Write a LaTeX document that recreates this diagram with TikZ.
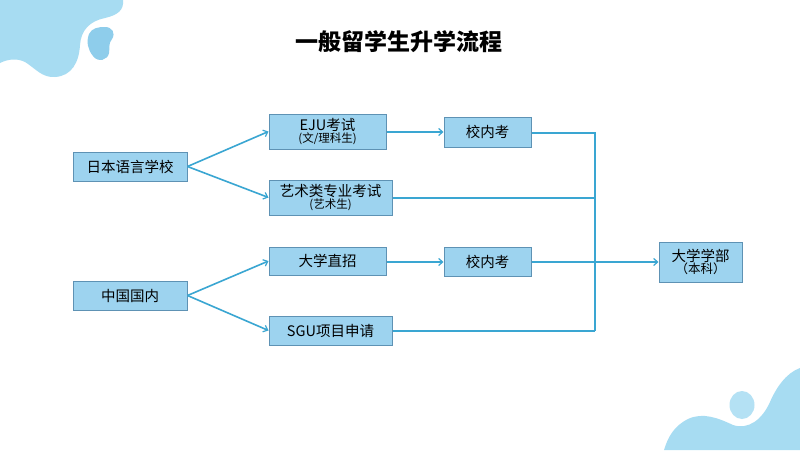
\documentclass[tikz,border=0pt]{standalone}
\usepackage{fontspec}
\setmainfont{Noto Sans CJK SC}
\usetikzlibrary{arrows.meta}
\definecolor{blobA}{HTML}{A7DCF2}
\definecolor{blobB}{HTML}{8ECDEB}
\definecolor{boxfill}{HTML}{9DD3EF}
\definecolor{boxline}{HTML}{5E92B4}
\definecolor{conn}{HTML}{3AA6D2}
\tikzset{
  box/.style={draw=boxline, line width=1pt, fill=boxfill, rectangle, inner sep=0pt, align=center, font=\fontsize{14.5}{16}\selectfont},
  link/.style={draw=conn, line width=1.6pt},
  arr/.style={link, -{Straight Barb[length=4pt,width=7pt,line width=1.2pt]}}
}
\begin{document}
\begin{tikzpicture}[x=1pt,y=-1pt]
\useasboundingbox (0,0) rectangle (800,450);
\fill[white] (0,0) rectangle (800,450);
% blobs
\fill[blobA] (0,0) -- (123,0) .. controls (124,10) and (118,15) .. (105,18)
  .. controls (90,21) and (81,30) .. (80,45)
  .. controls (79,62) and (72,76) .. (55,77)
  .. controls (42,78) and (35,68) .. (25,62)
  .. controls (17,58) and (8,59) .. (0,63) -- cycle;
\fill[blobB] (105,27) .. controls (112,27) and (116,33) .. (112,39)
  .. controls (108,44) and (110,48) .. (109,53)
  .. controls (108,60) and (98,63) .. (93,56)
  .. controls (88,50) and (86,42) .. (89,34)
  .. controls (92,28) and (98,27) .. (105,27) -- cycle;
\fill[blobA] (664,450) .. controls (668,437) and (674,426) .. (688,419)
  .. controls (703,412) and (718,418) .. (733,425)
  .. controls (748,430) and (762,420) .. (770,402)
  .. controls (776,388) and (786,373) .. (800,368) -- (800,450) -- cycle;
\fill[blobA!85!white] (742,405) ellipse [x radius=12.5, y radius=14];
% title
\node (title) at (399,42) {\fontsize{23}{25}\selectfont\bfseries 一般留学生升学流程};
% boxes
\node[box, minimum width=114, minimum height=29] (jp) at (130,166.5) {日本语言学校};
\node[box, minimum width=117, minimum height=35] (eju) at (327.5,131.5) {EJU考试\\[-4pt]{\fontsize{11.5}{12}\selectfont (文/理科生)}};
\node[box, minimum width=123, minimum height=35] (art) at (330.5,197.5) {艺术类专业考试\\[-4pt]{\fontsize{11.5}{12}\selectfont (艺术生)}};
\node[box, minimum width=87, minimum height=30] (xn1) at (487.5,132) {校内考};
\node[box, minimum width=87, minimum height=29] (xn2) at (487.5,262) {校内考};
\node[box, minimum width=83, minimum height=40] (dx) at (700.5,262) {大学学部\\[-4pt]{\fontsize{12.5}{13}\selectfont （本科）}};
\node[box, minimum width=114, minimum height=29] (cn) at (130,295.5) {中国国内};
\node[box, minimum width=117, minimum height=28] (zz) at (327.5,261) {大学直招};
\node[box, minimum width=123, minimum height=29] (sgu) at (330.5,330.5) {SGU项目申请};
% merge coordinates
\coordinate (m1) at (595,133);
\coordinate (m2) at (595,198);
\coordinate (m4) at (595,331);
% connectors
\draw[arr] (jp.east) -- (eju.west);
\draw[arr] (jp.east) -- (art.west);
\draw[arr] (cn.east) -- (zz.west);
\draw[arr] (cn.east) -- (sgu.west);
\draw[arr] (eju.east |- xn1.west) -- (xn1.west);
\draw[arr] (zz.east |- xn2.west) -- (xn2.west);
\draw[link] (xn1.east |- m1) -- (m1) -- (m4);
\draw[link] (art.east |- m2) -- (m2);
\draw[link] (sgu.east |- m4) -- (m4);
\draw[arr] (xn2.east) -- (dx.west);
\end{tikzpicture}
\end{document}
